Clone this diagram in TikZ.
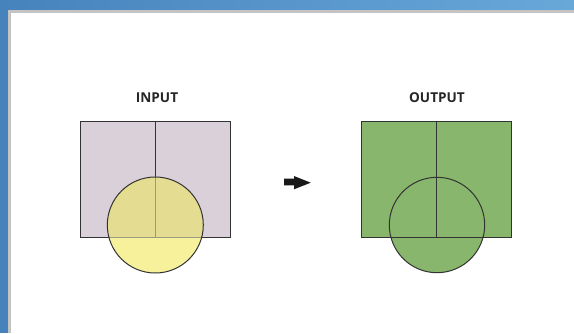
\documentclass[tikz,border=0pt]{standalone}
\usepackage{fontspec}
\setmainfont{Open Sans}
\definecolor{bandL}{HTML}{4682BC}
\definecolor{bandR}{HTML}{68A8D9}
\definecolor{edgegray}{HTML}{C4C4C4}
\definecolor{inpfill}{HTML}{D9D0DA}
\definecolor{circyel}{HTML}{F7F19C}
\definecolor{overlap}{HTML}{E3DC91}
\definecolor{outgreen}{HTML}{88B66C}
\definecolor{dline}{HTML}{333333}
\definecolor{gline}{HTML}{9C9A84}
\tikzset{
  lbl/.style={font=\bfseries\fontsize{13.6}{15}\selectfont, text=black!85, inner sep=0pt},
  shapeline/.style={draw=dline, line width=1pt},
}
\begin{document}
\begin{tikzpicture}[x=1pt,y=-1pt]
\useasboundingbox (0,0) rectangle (574,333);
% window frame
\shade[left color=bandL, right color=bandR] (0,0) rectangle (574,10);
\fill[bandL] (0,0) rectangle (8,333);
\fill[edgegray] (8,10) rectangle (574,12.7);
\fill[edgegray] (8,10) rectangle (11,333);
\fill[white] (11,12.7) rectangle (574,333);

% labels
\node[lbl] (inlbl) at (157,97.5) {INPUT};
\node[lbl] (outlbl) at (437,97.5) {OUTPUT};

% INPUT
\fill[inpfill] (80,121.7) rectangle (230,237.3);
\draw[shapeline] (80,121.7) rectangle (230,237.3);
\draw[shapeline] (155.3,121.7) -- (155.3,237.3);
\fill[circyel] (155.3,225) circle (48);
\begin{scope}
  \clip (80,121.7) rectangle (230,237.3);
  \fill[overlap] (155.3,225) circle (48);
\end{scope}
\begin{scope}
  \clip (155.3,225) circle (48);
  \draw[gline, line width=1pt] (155.3,121.7) -- (155.3,237.3);
  \draw[gline, line width=1pt] (80,237.3) -- (230,237.3);
\end{scope}
\draw[shapeline] (155.3,225) circle (48);

% arrow
\fill[black!90] (284,178.7) -- (294,178.7) -- (294,176) -- (310.7,182.7) -- (294,189.3) -- (294,185.3) -- (284,185.3) -- cycle;

% OUTPUT
\fill[outgreen] (361.7,121.7) rectangle (511.7,237.3);
\fill[outgreen] (437,225) circle (47.7);
\draw[shapeline] (361.7,121.7) rectangle (511.7,237.3);
\draw[shapeline] (436.5,121.7) -- (436.5,237.3);
\draw[shapeline] (437,225) circle (47.7);
\end{tikzpicture}
\end{document}
